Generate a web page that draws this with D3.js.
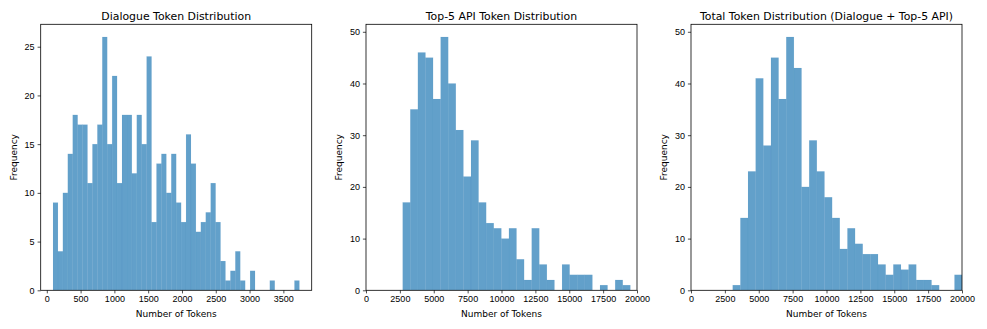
<!DOCTYPE html>
<html>
<head>
<meta charset="utf-8">
<script src="https://cdn.jsdelivr.net/npm/d3@7"></script>
<style>
  body { margin: 0; background: #fff; }
  svg { display: block; font-family: "DejaVu Sans", sans-serif; }
  .tick text { font-size: 9px; fill: #000; }
  .tick line { stroke: #000; stroke-width: 0.7; }
  .domain { display: none; }
</style>
</head>
<body>
<div id="chart"></div>
<script>
// histogram counts, left to right
const dialogueCounts = [9, 4, 10, 14, 18, 17, 17, 11, 15, 17,
  26, 15, 22, 11, 18, 18, 12, 18, 15, 24,
  7, 13, 14, 10, 14, 9, 7, 16, 13, 6,
  7, 8, 11, 7, 3, 1, 2, 4, 1, 0,
  2, 0, 0, 0, 1, 0, 0, 0, 0, 1];
const dialogueBinStart = 92;
const dialogueBinWidth = 72.9;

const apiCounts = [17, 35, 46, 45, 37, 49, 40, 31, 22, 29,
  17, 13, 12, 10, 12, 6, 2, 12, 5, 2,
  0, 5, 3, 3, 3, 0, 1, 0, 2, 1];
const apiBinStart = 2709;
const apiBinWidth = 560;

const totalCounts = [1, 14, 23, 41, 28, 45, 37, 49, 43, 20,
  29, 23, 18, 14, 8, 12, 9, 7, 7, 5,
  3, 5, 4, 5, 2, 2, 1, 0, 0, 3];
const totalBinStart = 3079;
const totalBinWidth = 564.4;

const titles = ["Dialogue Token Distribution", "Top-5 API Token Distribution",
  "Total Token Distribution (Dialogue + Top-5 API)"];
const dialogueXTicks = [0, 500, 1000, 1500, 2000, 2500, 3000, 3500];
const apiXTicks = [0, 2500, 5000, 7500, 10000, 12500, 15000, 17500, 20000];
const dialogueYTicks = [0, 5, 10, 15, 20, 25];
const apiYTicks = [0, 10, 20, 30, 40, 50];

const W = 987, H = 329;
const plotTop = 24.3, plotBottom = 290.3, plotW = 271;
const lefts = [40.7, 366, 691];

const svg = d3.select("#chart").append("svg")
  .attr("width", W)
  .attr("height", H);

const defs = svg.append("defs");

function makeBins(counts, start, width) {
  return counts.map((c, i) => ({ x0: start + i * width, x1: start + (i + 1) * width, count: c }));
}

const panels = [
  { bins: makeBins(dialogueCounts, dialogueBinStart, dialogueBinWidth), xTicks: dialogueXTicks, yTicks: dialogueYTicks, xlim: null },
  { bins: makeBins(apiCounts, apiBinStart, apiBinWidth), xTicks: apiXTicks, yTicks: apiYTicks, xlim: [0, 20000] },
  { bins: makeBins(totalCounts, totalBinStart, totalBinWidth), xTicks: apiXTicks, yTicks: apiYTicks, xlim: [0, 20000] }
];

panels.forEach((p, idx) => {
  let left = lefts[idx];
  let lo = p.bins[0].x0, hi = p.bins[p.bins.length - 1].x1;
  let xDomain = p.xlim ? p.xlim : [lo - 0.05 * (hi - lo), hi + 0.05 * (hi - lo)];
  let x = d3.scaleLinear().domain(xDomain).range([left, left + plotW]);
  let yMax = d3.max(p.bins, d => d.count) * 1.05;
  let y = d3.scaleLinear().domain([0, yMax]).range([plotBottom, plotTop]);

  defs.append("clipPath").attr("id", `clip-${idx}`)
    .append("rect")
    .attr("x", left).attr("y", plotTop)
    .attr("width", plotW).attr("height", plotBottom - plotTop);

  let g = svg.append("g");

  g.append("g")
    .attr("clip-path", `url(#clip-${idx})`)
    .selectAll("rect")
    .data(p.bins.filter(d => d.count > 0))
    .enter().append("rect")
    .attr("x", d => x(d.x0))
    .attr("y", d => y(d.count))
    .attr("width", d => x(d.x1) - x(d.x0))
    .attr("height", d => y(0) - y(d.count))
    .style("fill", "#1f77b4")
    .style("fill-opacity", 0.7)
    .style("stroke", "#1f77b4")
    .style("stroke-opacity", 0.08)
    .style("stroke-width", 0.5);

  // frame
  g.append("rect")
    .attr("x", left).attr("y", plotTop)
    .attr("width", plotW).attr("height", plotBottom - plotTop)
    .style("fill", "none")
    .style("stroke", "#000")
    .style("stroke-width", 0.8);

  g.append("g")
    .attr("transform", `translate(0,${plotBottom})`)
    .call(d3.axisBottom(x).tickValues(p.xTicks).tickFormat(d3.format("d")).tickSizeOuter(0).tickSize(3.1).tickPadding(2.6));

  g.append("g")
    .attr("transform", `translate(${left},0)`)
    .call(d3.axisLeft(y).tickValues(p.yTicks).tickFormat(d3.format("d")).tickSizeOuter(0).tickSize(3.1).tickPadding(3));

  g.append("text")
    .attr("x", left + plotW / 2)
    .attr("y", 19.5)
    .attr("text-anchor", "middle")
    .style("font-size", "10.9px")
    .text(titles[idx]);

  g.append("text")
    .attr("x", left + plotW / 2)
    .attr("y", 316.6)
    .attr("text-anchor", "middle")
    .style("font-size", "9px")
    .text("Number of Tokens");

  g.append("text")
    .attr("transform", `translate(${left - 26.5},${(plotTop + plotBottom) / 2}) rotate(-90)`)
    .attr("text-anchor", "middle")
    .attr("dy", "0.32em")
    .style("font-size", "9px")
    .text("Frequency");
});
</script>
</body>
</html>
